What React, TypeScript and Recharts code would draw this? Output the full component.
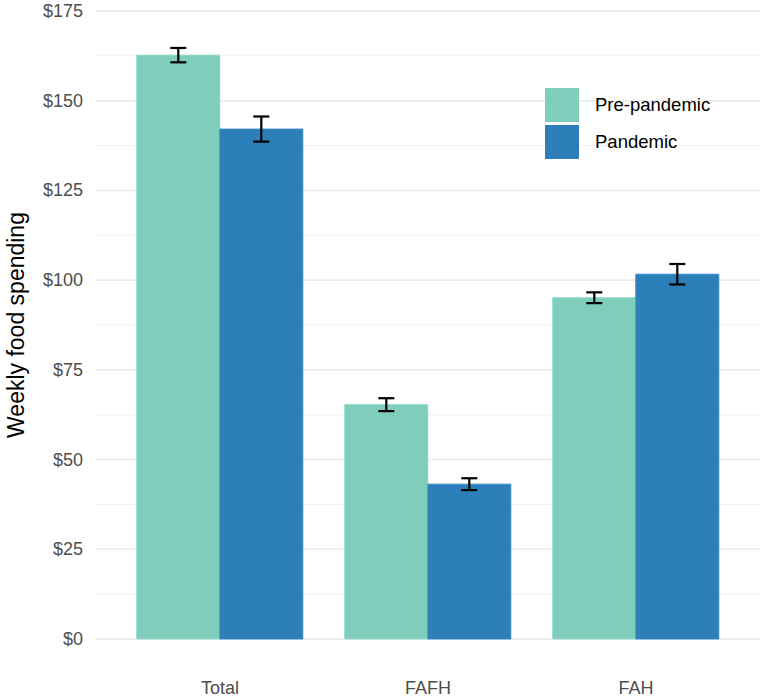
import React from 'react';
import { BarChart, Bar, XAxis, YAxis, CartesianGrid, ErrorBar, Legend } from 'recharts';

const categories = ['Total', 'FAFH', 'FAH'];
const prePandemic = [162.7, 65.3, 95.1];
const pandemic = [142.1, 43.15, 101.65];
const preError = [2.0, 1.8, 1.5];
const pandemicError = [3.5, 1.65, 2.85];
const yTicks = [0, 25, 50, 75, 100, 125, 150, 175];
const yMinor = [12.5, 37.5, 62.5, 87.5, 112.5, 137.5, 162.5];

const seriesNames = ['Pre-pandemic', 'Pandemic'];
const colors = ['#7FCDBB', '#2C7FB8'];

const data = categories.map((c, i) => ({
  category: c,
  pre: prePandemic[i],
  pan: pandemic[i],
  preErr: preError[i],
  panErr: pandemicError[i],
}));

const FONT = '"Liberation Sans", Arial, sans-serif';

const XTick = (props: any) => {
  const { x, y, payload } = props;
  return (
    <text x={x} y={y + 47} textAnchor="middle" fontSize={18} fill="#4D4D4D" fontFamily={FONT}>
      {payload.value}
    </text>
  );
};

const YTick = (props: any) => {
  const { x, y, payload } = props;
  return (
    <text x={x} y={y + 6} textAnchor="end" fontSize={18} fill="#4D4D4D" fontFamily={FONT}>
      {'$' + payload.value}
    </text>
  );
};

const LegendContent = () => (
  <div style={{ fontFamily: FONT }}>
    {seriesNames.map((n, i) => (
      <div key={n} style={{ display: 'flex', alignItems: 'center', marginBottom: 3 }}>
        <div style={{ width: 34, height: 34, background: colors[i] }} />
        <span style={{ marginLeft: 16, fontSize: 18.5, color: '#000' }}>{n}</span>
      </div>
    ))}
  </div>
);

export default function App() {
  return (
    <div style={{ position: 'absolute', left: 0, top: 0, background: '#fff' }}>
      <BarChart
        width={765}
        height={700}
        data={data}
        margin={{ top: 11, right: 4, bottom: 0, left: 0 }}
        barCategoryGap="10%"
        barGap={0}
      >
        <CartesianGrid vertical={false} horizontalValues={yMinor} stroke="#F1F1F1" strokeWidth={1} />
        <CartesianGrid vertical={false} horizontalValues={yTicks} stroke="#EBEBEB" strokeWidth={1.6} />
        <XAxis
          dataKey="category"
          axisLine={false}
          tickLine={false}
          height={61}
          padding={{ left: 21, right: 21 }}
          tick={<XTick />}
        />
        <YAxis
          domain={[0, 175]}
          ticks={yTicks}
          axisLine={false}
          tickLine={false}
          tickSize={0}
          tickMargin={12}
          width={95}
          tick={<YTick />}
          label={{
            content: (p: any) => {
              const vb = p.viewBox;
              const cx = vb.x + 16;
              const cy = vb.y + vb.height / 2;
              return (
                <text
                  x={cx}
                  y={cy}
                  transform={`rotate(-90 ${cx} ${cy})`}
                  textAnchor="middle"
                  dominantBaseline="central"
                  fontSize={23}
                  fill="#000"
                  fontFamily={FONT}
                >
                  Weekly food spending
                </text>
              );
            },
          }}
        />
        <Legend
          layout="horizontal"
          verticalAlign="middle"
          align="center"
          content={<LegendContent />}
          wrapperStyle={{ position: 'absolute', left: 545, top: 88, width: 'auto' }}
        />
        <Bar dataKey="pre" name={seriesNames[0]} fill={colors[0]} stroke="#8FD6C6" strokeWidth={1} isAnimationActive={false}>
          <ErrorBar dataKey="preErr" width={8} stroke="#000" strokeWidth={2.2} />
        </Bar>
        <Bar dataKey="pan" name={seriesNames[1]} fill={colors[1]} stroke="#3A8BC4" strokeWidth={1} isAnimationActive={false}>
          <ErrorBar dataKey="panErr" width={8} stroke="#000" strokeWidth={2.2} />
        </Bar>
      </BarChart>
    </div>
  );
}
